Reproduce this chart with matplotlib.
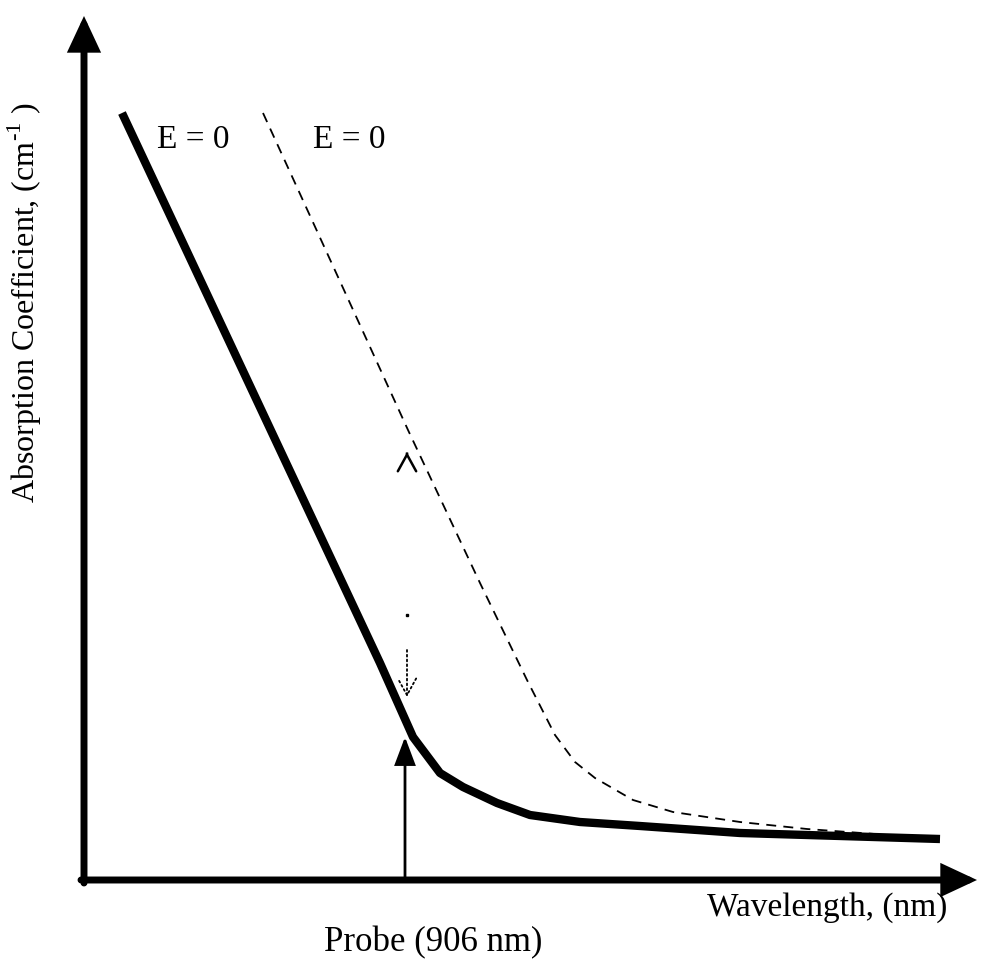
import matplotlib
matplotlib.use("Agg")
import matplotlib.pyplot as plt
from matplotlib.patches import FancyArrowPatch

plt.rcParams['font.family'] = ['Liberation Serif', 'DejaVu Serif']
plt.rcParams['mathtext.fontset'] = 'custom'
plt.rcParams['mathtext.rm'] = 'Liberation Serif'

# arbitrary units, origin at the axes corner
solid_x = [38, 296, 329, 356, 379, 413, 446, 496, 556, 656, 756, 856]
solid_y = [767, 217, 143, 107, 93, 77, 65, 58, 54, 47, 44, 41]

dashed_x = [179, 324, 396, 443, 471, 491, 511, 549, 589, 656, 723, 791]
dashed_y = [767, 450, 297, 200, 145, 118, 102, 80, 68, 58, 51, 46]

probe_x = 321
probe_tip = 143
down_arrow = (323, 230, 183)   # x, from y, to y
up_caret = (323, 428)
small_dot = (323, 265)

x_max, y_max = 898, 880

fig = plt.figure(figsize=(9.82, 9.72), dpi=100)
ax = fig.add_axes([84 / 982, 92 / 972, 898 / 982, 880 / 972])
ax.set_xlim(0, x_max)
ax.set_ylim(0, y_max)
ax.axis('off')


def arrow(p0, p1, style, lw, ls='-'):
    a = FancyArrowPatch(p0, p1, arrowstyle=style, mutation_scale=20, lw=lw,
                        color='black', linestyle=ls, shrinkA=0, shrinkB=0,
                        clip_on=False, joinstyle='miter')
    ax.add_patch(a)


# axes with arrow heads
arrow((0, -3), (0, 864), '-|>,head_length=0.9,head_width=0.42', 5)
arrow((-3, 0), (893, 0), '-|>,head_length=0.9,head_width=0.42', 5)

# curves
ax.plot(solid_x, solid_y, color='black', lw=6, solid_capstyle='butt',
        solid_joinstyle='round')
ax.plot(dashed_x, dashed_y, color='black', lw=1.3, dashes=(5.5, 4))

# probe arrow
arrow((probe_x, 0), (probe_x, probe_tip), '-|>,head_length=0.85,head_width=0.32', 2)

# shift markers
arrow((down_arrow[0], down_arrow[1]), (down_arrow[0], down_arrow[2]),
      '->,head_length=0.6,head_width=0.33', 1.3, ':')
arrow((up_caret[0], up_caret[1] - 1), (up_caret[0], up_caret[1]),
      '->,head_length=0.6,head_width=0.33', 1.8)
ax.plot([small_dot[0]], [small_dot[1]], marker='s', ms=1.5, color='black')

# labels
ax.text(73, 740, 'E = 0', fontsize=24, va='center', ha='left')
ax.text(229, 740, 'E = 0', fontsize=24, va='center', ha='left')
ax.text(863, -28, 'Wavelength, (nm)', fontsize=24, va='center', ha='right',
        clip_on=False)
ax.text(349, -63, 'Probe (906 nm)', fontsize=25, va='center', ha='center',
        clip_on=False)
ax.text(-59, 577, r'Absorption Coefficient, (cm$^{\text{-1}}$ )',
        fontsize=23, rotation=90, va='center', ha='center', clip_on=False)

fig.savefig('out.png', dpi=100, facecolor='white')
